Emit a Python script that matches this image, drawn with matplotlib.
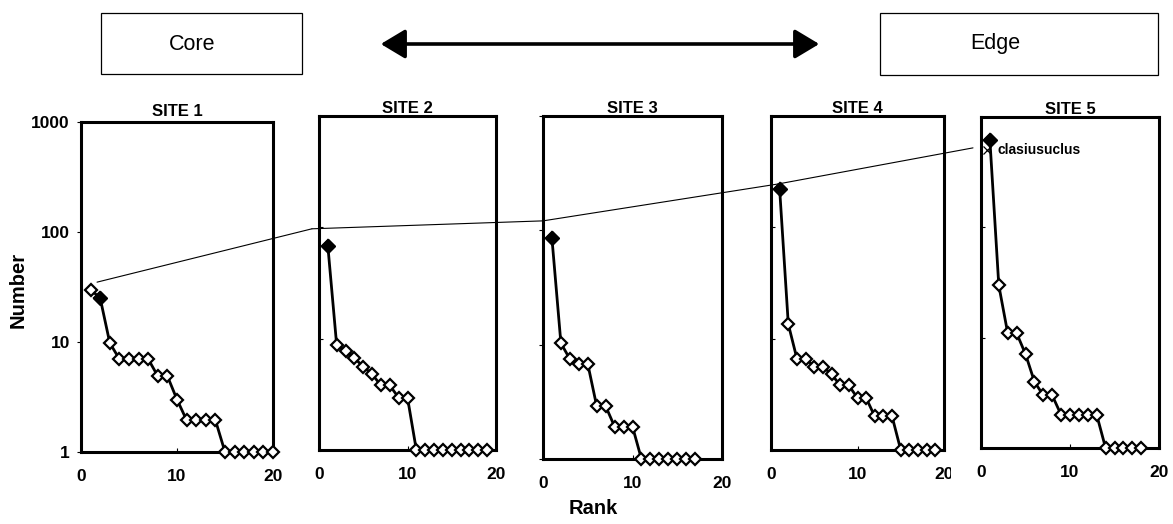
import matplotlib
matplotlib.use("Agg")
import matplotlib.pyplot as plt
from matplotlib.patches import Rectangle, FancyArrowPatch, ConnectionPatch
from matplotlib.transforms import Bbox, TransformedBbox

plt.rcParams['font.family'] = ['Liberation Sans', 'DejaVu Sans']

# abundance per rank
site_names = ["SITE 1", "SITE 2", "SITE 3", "SITE 4", "SITE 5"]
site1 = [30, 25, 9.8, 7, 7, 7, 7, 4.9, 4.9, 3, 1.95, 1.95, 1.95, 1.95, 1, 1, 1, 1, 1, 1]
site2 = [68, 8.7, 7.8, 6.7, 5.6, 4.8, 3.8, 3.8, 2.95, 2.95, 1, 1, 1, 1, 1, 1, 1, 1, 1]
site3 = [85, 10.3, 7.5, 6.8, 6.8, 2.9, 2.9, 1.92, 1.92, 1.92, 1, 1, 1, 1, 1, 1, 1]
site4 = [220, 13.5, 6.6, 6.6, 5.6, 5.6, 4.8, 3.8, 3.8, 2.93, 2.93, 2, 2, 2, 1, 1, 1, 1, 1]
site5 = [615, 29.8, 11, 11, 7.1, 4.0, 3.0, 3.0, 2, 2, 2, 2, 2, 1, 1, 1, 1, 1]
sites = [site1, site2, site3, site4, site5]
# rank of the filled (clasiusuclus) point in each site
filled_rank = [2, 1, 1, 1, 1]

# thin line linking the species across sites (rank, number in each panel)
link_x = [1.67, -0.8, 0.0, 0.8, -0.9]
link_y = [35, 97, 121, 245, 525]
# the label marker in site 5
label_x = [0.65]
label_y = [500]
label_text = "clasiusuclus"

W, H = 1173, 524
fig = plt.figure(figsize=(W / 100, H / 100), dpi=100)

# panel boxes in pixels: left, top, right, bottom (pasted panels, not aligned)
boxes = [(81, 122, 273, 452), (319, 116, 496, 450), (543, 116, 722, 459),
         (771, 116, 944, 450), (981, 117, 1159, 448)]
title_pad = [4, 0, 2, 0, 2]
ytick_dir = ['out', 'in', 'out', 'in', 'in']

axes = []
for i, (l, t, r, b) in enumerate(boxes):
    ax = fig.add_axes([l / W, 1 - b / H, (r - l) / W, (b - t) / H])
    vals = sites[i]
    ranks = list(range(1, len(vals) + 1))
    ax.plot(ranks, vals, color='black', lw=2.0, marker='D', ms=6,
            mfc='white', mec='black', mew=1.6, zorder=3, clip_on=False)
    k = filled_rank[i] - 1
    ax.plot([ranks[k]], [vals[k]], marker='D', ms=7.2, color='black',
            ls='none', zorder=4, clip_on=False)
    ax.set_yscale('log')
    ax.set_ylim(1, 1000)
    ax.set_xlim(0, 20)
    ax.set_xticks([0, 10, 20])
    ax.set_yticks([1, 10, 100, 1000])
    ax.minorticks_off()
    for s in ax.spines.values():
        s.set_linewidth(2.2)
    ax.tick_params(axis='x', direction='in', length=3, width=0.8, pad=12,
                   labelsize=12.5)
    ax.tick_params(axis='y', direction=ytick_dir[i], length=3, width=0.8, pad=5,
                   labelsize=12.5)
    for lab in ax.get_xticklabels() + ax.get_yticklabels():
        lab.set_fontweight('bold')
    if i == 0:
        ax.set_yticklabels(["1", "10", "100", "1000"])
    else:
        ax.set_yticklabels([])
    ax.set_title(site_names[i], fontsize=12, fontweight='bold', pad=title_pad[i])
    axes.append(ax)

# the "20" of site 4 is cut by the pasted site 5 panel
clip = TransformedBbox(Bbox.from_extents(0, 0, 951 / W, 1), fig.transFigure)
lab20 = axes[3].get_xticklabels()[2]
lab20.set_clip_on(True)
lab20.set_clip_box(clip)

# linking line
for i in range(len(axes) - 1):
    con = ConnectionPatch(xyA=(link_x[i], link_y[i]), coordsA=axes[i].transData,
                          xyB=(link_x[i + 1], link_y[i + 1]), coordsB=axes[i + 1].transData,
                          color='black', lw=0.8, zorder=5)
    fig.add_artist(con)

axes[4].plot(label_x, label_y, marker='x', ms=6, mew=0.9, color='black',
             ls='none', clip_on=False, zorder=5)
axes[4].text(1.9, label_y[0], label_text, fontsize=10, fontweight='bold',
             va='center', ha='left')

# axis titles
fig.text(18 / W, 1 - 290 / H, "Number", rotation=90, ha='center', va='center',
         fontsize=14.5, fontweight='bold')
fig.text(593 / W, 1 - 508 / H, "Rank", ha='center', va='center',
         fontsize=14.5, fontweight='bold')

# Core / Edge boxes and arrow
fig.patches.append(Rectangle((101 / W, 1 - 74 / H), 201 / W, 61 / H, fill=False,
                             lw=0.9, ec='black', transform=fig.transFigure))
fig.patches.append(Rectangle((880 / W, 1 - 75 / H), 278 / W, 62 / H, fill=False,
                             lw=0.9, ec='black', transform=fig.transFigure))
fig.text(192 / W, 1 - 44 / H, "Core", ha='center', va='center', fontsize=15.5)
fig.text(995 / W, 1 - 44 / H, "Edge", ha='center', va='center', fontsize=15.5)
arrow = FancyArrowPatch((378 / W, 1 - 44 / H), (822 / W, 1 - 44 / H),
                        transform=fig.transFigure,
                        arrowstyle='<|-|>,head_length=1.0,head_width=0.6',
                        mutation_scale=15, lw=2.6, color='black')
fig.patches.append(arrow)

fig.savefig("out.png", dpi=100)
